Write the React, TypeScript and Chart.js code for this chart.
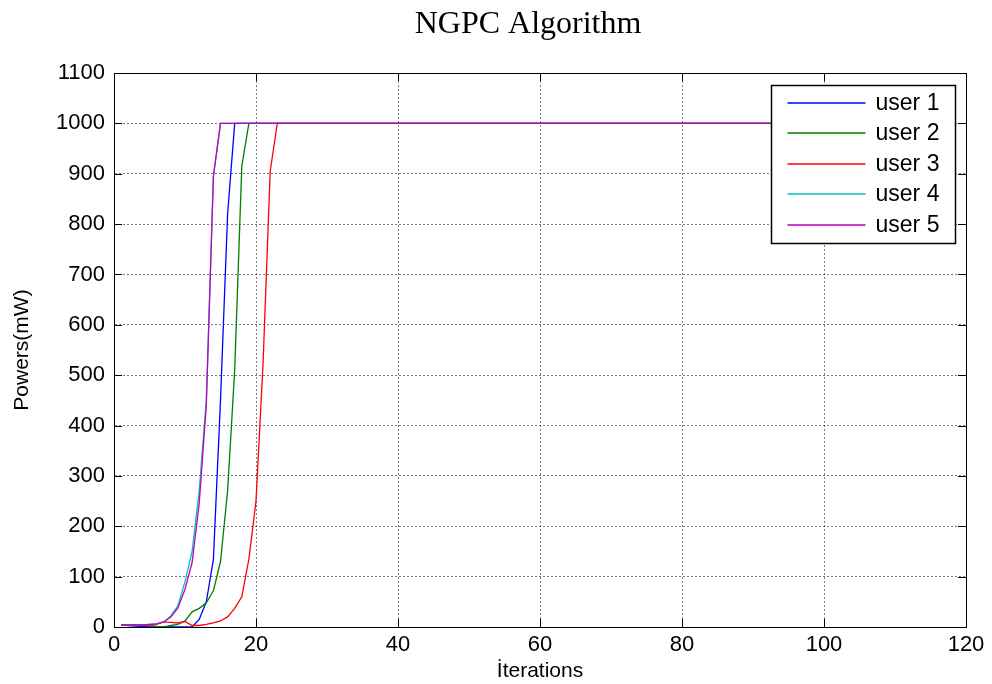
import React, { useEffect, useRef } from "react";
import { Chart, registerables } from "chart.js";

Chart.register(...registerables);

const TITLE = "NGPC Algorithm";
const X_TITLE = "İterations";
const Y_TITLE = "Powers(mW)";
const LAST_ITERATION = 110;
const PLATEAU = 1000;

const USER_LABELS = ["user 1", "user 2", "user 3", "user 4", "user 5"];
const USER_COLORS = ["#0000ff", "#008000", "#ff0000", "#00bfbf", "#bf00bf"];

// Power values per iteration, starting at iteration 1 (rise phase; afterwards held at PLATEAU)
const user1 = [4, 3, 2, 1, 0, 0, 0, 0, 0, 0, 0, 15, 50, 134, 450, 820, 1000];
const user2 = [4, 4, 4, 4, 3, 1, 0, 3, 5, 12, 30, 37, 48, 72, 130, 270, 510, 915, 1000];
const user3 = [4, 4, 4, 4, 4, 5, 10, 9, 8, 11, 3, 3, 5, 8, 12, 20, 37, 60, 135, 250, 525, 905, 1000];
const user4 = [4, 4, 4, 4, 5, 6, 10, 22, 42, 90, 150, 270, 450, 895, 1000];
const user5 = [4, 4, 4, 4, 5, 6, 10, 20, 38, 75, 128, 245, 440, 895, 1000];

const X_TICKS = [0, 20, 40, 60, 80, 100, 120];
const Y_TICKS = [0, 100, 200, 300, 400, 500, 600, 700, 800, 900, 1000, 1100];

const FONT_SANS = "'Liberation Sans', Arial, sans-serif";
const FONT_SERIF = "'Liberation Serif', 'Times New Roman', serif";

function toPoints(values: number[]) {
  const pts: { x: number; y: number }[] = [];
  for (let i = 1; i <= LAST_ITERATION; i++) {
    const v = i - 1 < values.length ? values[i - 1] : PLATEAU;
    pts.push({ x: i, y: v });
  }
  return pts;
}

const boxPlugin = {
  id: "matlabBox",
  afterDraw(chart: any) {
    const { ctx, chartArea } = chart;
    const xs = chart.scales.x;
    const ys = chart.scales.y;
    const { left, right, top, bottom } = chartArea;
    ctx.save();
    ctx.strokeStyle = "#000";
    ctx.lineWidth = 1;
    const T = 8;
    ctx.beginPath();
    X_TICKS.forEach((v) => {
      const px = Math.round(xs.getPixelForValue(v)) + 0.5;
      ctx.moveTo(px, bottom);
      ctx.lineTo(px, bottom - T);
      ctx.moveTo(px, top);
      ctx.lineTo(px, top + T);
    });
    Y_TICKS.forEach((v) => {
      const py = Math.round(ys.getPixelForValue(v)) + 0.5;
      ctx.moveTo(left, py);
      ctx.lineTo(left + T, py);
      ctx.moveTo(right, py);
      ctx.lineTo(right - T, py);
    });
    ctx.stroke();
    ctx.strokeRect(Math.round(left) + 0.5, Math.round(top) + 0.5, Math.round(right - left), Math.round(bottom - top));

    // legend
    const lw = 184;
    const lh = 158;
    const lx = Math.round(right - 11 - lw) + 0.5;
    const ly = Math.round(top + 12) + 0.5;
    ctx.fillStyle = "#fff";
    ctx.fillRect(lx, ly, lw, lh);
    ctx.strokeStyle = "#000";
    ctx.lineWidth = 1.5;
    ctx.strokeRect(lx, ly, lw, lh);
    ctx.font = `23px ${FONT_SANS}`;
    ctx.textBaseline = "middle";
    ctx.textAlign = "left";
    USER_LABELS.forEach((lab, i) => {
      const ry = Math.round(ly + 17 + i * 30.5);
      ctx.strokeStyle = USER_COLORS[i];
      ctx.lineWidth = 1.6;
      ctx.beginPath();
      ctx.moveTo(lx + 16, ry);
      ctx.lineTo(lx + 94, ry);
      ctx.stroke();
      ctx.fillStyle = "#000";
      ctx.fillText(lab, lx + 104, ry + 1);
    });

    // title
    ctx.font = `32px ${FONT_SERIF}`;
    ctx.textAlign = "center";
    ctx.textBaseline = "middle";
    ctx.fillStyle = "#000";
    ctx.fillText(TITLE, (left + right) / 2 - 12, top - 48);
    ctx.restore();
  },
};

export default function App() {
  const ref = useRef<HTMLCanvasElement | null>(null);
  useEffect(() => {
    if (!ref.current) return;
    const series = [user1, user2, user3, user4, user5];
    const chart = new Chart(ref.current, {
      type: "line",
      data: {
        datasets: series.map((s, i) => ({
          label: USER_LABELS[i],
          data: toPoints(s),
          borderColor: USER_COLORS[i],
          backgroundColor: USER_COLORS[i],
          borderWidth: 1.3,
          pointRadius: 0,
          tension: 0,
          fill: false,
          order: 4 - i,
        })),
      },
      options: {
        animation: false,
        responsive: false,
        devicePixelRatio: 1,
        layout: { padding: { left: 0, right: 26, top: 73, bottom: 0 } },
        plugins: {
          legend: { display: false },
          title: { display: false },
          tooltip: { enabled: false },
        },
        scales: {
          x: {
            type: "linear",
            min: 0,
            max: 120,
            afterFit: (s: any) => {
              s.height = 57;
            },
            afterBuildTicks: (s: any) => {
              s.ticks = X_TICKS.map((v) => ({ value: v }));
            },
            ticks: {
              color: "#000",
              font: { family: FONT_SANS, size: 22 },
              padding: 5,
              maxRotation: 0,
              callback: (v: any) => String(v),
            },
            grid: { color: "rgba(0,0,0,0.5)", drawTicks: false, lineWidth: 1 },
            border: { display: true, color: "#000", dash: [2, 2] },
            title: {
              display: true,
              text: X_TITLE,
              color: "#000",
              font: { family: FONT_SANS, size: 21 },
              padding: { top: 0, bottom: 0 },
            },
          },
          y: {
            type: "linear",
            min: 0,
            max: 1100,
            afterFit: (s: any) => {
              s.width = 114;
            },
            afterBuildTicks: (s: any) => {
              s.ticks = Y_TICKS.map((v) => ({ value: v }));
            },
            ticks: {
              color: "#000",
              font: { family: FONT_SANS, size: 22 },
              padding: 9,
              callback: (v: any) => String(v),
            },
            grid: { color: "rgba(0,0,0,0.5)", drawTicks: false, lineWidth: 1 },
            border: { display: true, color: "#000", dash: [2, 2] },
            title: {
              display: true,
              text: Y_TITLE,
              color: "#000",
              font: { family: FONT_SANS, size: 21 },
              padding: { top: 10, bottom: 0 },
            },
          },
        },
      },
      plugins: [boxPlugin],
    } as any);
    return () => chart.destroy();
  }, []);
  return (
    <div style={{ position: "fixed", left: 0, top: 0, width: 992, height: 684, background: "#fff" }}>
      <canvas ref={ref} width={992} height={684} style={{ display: "block" }} />
    </div>
  );
}
